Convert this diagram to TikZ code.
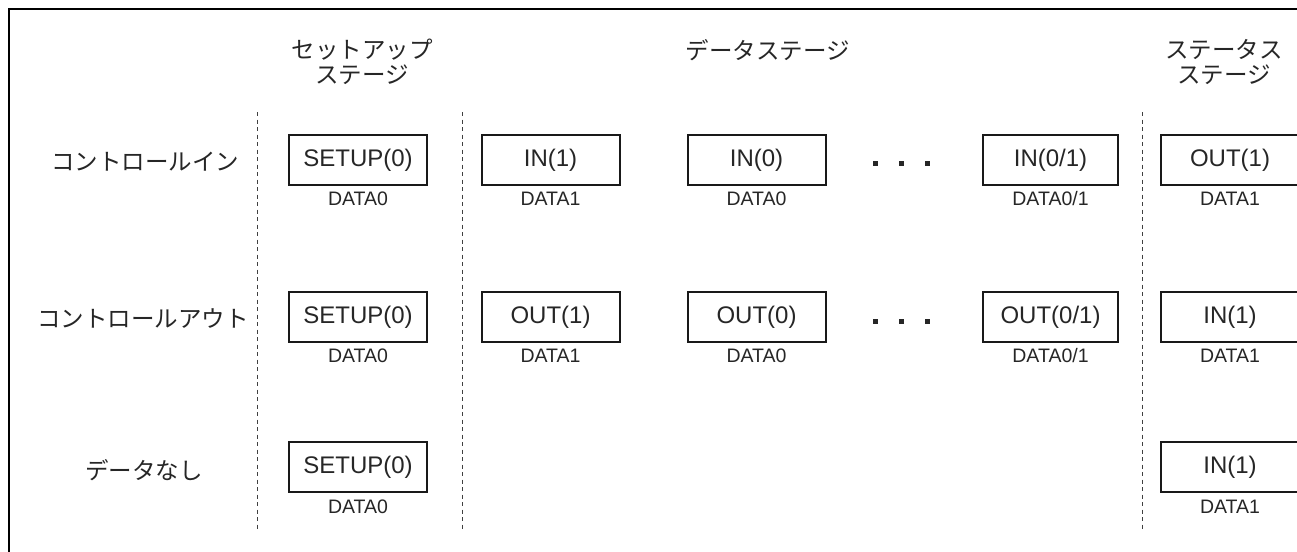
\documentclass[tikz,border=0pt]{standalone}
\usepackage{fontspec}
\setmainfont{Liberation Sans}
\newfontfamily\jp{Noto Sans CJK JP}
\begin{document}
\begin{tikzpicture}[x=1pt,y=-1pt,
  stagebox/.style={draw=black!90, line width=2pt, minimum width=138pt, minimum height=50pt, inner sep=0pt, text=black!85, font=\fontsize{24}{28}\selectfont},
  datalbl/.style={inner sep=0pt, text=black!85, font=\fontsize{19.5}{22}\selectfont},
  jplbl/.style={inner sep=0pt, text=black!85, font=\jp\fontsize{23.5}{24.5}\selectfont, align=center},
  dotmark/.style={fill=black!85, minimum size=5pt, inner sep=0pt},
  divider/.style={draw=black!75, line width=1pt, dash pattern=on 4pt off 3.5pt}]
\clip (0,0) rectangle (1297,551);
\fill[white] (0,0) rectangle (1297,551);
% frame (extends beyond the cropped picture)
\draw[line width=2.6pt] (9,620) -- (9,9) -- (1400,9);
% dividers
\draw[divider] (257,112) -- (257,530);
\draw[divider] (462,112) -- (462,530);
\draw[divider] (1142,112) -- (1142,530);
% headers
\node[jplbl] (hsetup) at (362,62) {セットアップ\\ステージ};
\node[jplbl] (hdata) at (768,50) {データステージ};
\node[jplbl] (hstatus) at (1224,62) {ステータス\\ステージ};
% row labels
\node[jplbl] (lin) at (145,162) {コントロールイン};
\node[jplbl] (lout) at (143,319) {コントロールアウト};
\node[jplbl] (lnone) at (144,470) {データなし};
% row 1
\node[stagebox] (b11) at (358,160) {SETUP(0)};
\node[datalbl] (t11) at (358,199) {DATA0};
\node[stagebox] (b12) at (550.5,160) {IN(1)};
\node[datalbl] (t12) at (550.5,199) {DATA1};
\node[stagebox] (b13) at (756.5,160) {IN(0)};
\node[datalbl] (t13) at (756.5,199) {DATA0};
\node[dotmark] (d11) at (875,163) {};
\node[dotmark] (d12) at (901,163) {};
\node[dotmark] (d13) at (927,163) {};
\node[stagebox, minimum width=135pt] (b14) at (1050.5,160) {IN(0/1)};
\node[datalbl] (t14) at (1050.5,199) {DATA0/1};
\node[stagebox] (b15) at (1230,160) {OUT(1)};
\node[datalbl] (t15) at (1230,199) {DATA1};
% row 2
\node[stagebox] (b21) at (358,317) {SETUP(0)};
\node[datalbl] (t21) at (358,356) {DATA0};
\node[stagebox] (b22) at (550.5,317) {OUT(1)};
\node[datalbl] (t22) at (550.5,356) {DATA1};
\node[stagebox] (b23) at (756.5,317) {OUT(0)};
\node[datalbl] (t23) at (756.5,356) {DATA0};
\node[dotmark] (d21) at (875,321) {};
\node[dotmark] (d22) at (901,321) {};
\node[dotmark] (d23) at (927,321) {};
\node[stagebox, minimum width=135pt] (b24) at (1050.5,317) {OUT(0/1)};
\node[datalbl] (t24) at (1050.5,356) {DATA0/1};
\node[stagebox] (b25) at (1230,317) {IN(1)};
\node[datalbl] (t25) at (1230,356) {DATA1};
% row 3
\node[stagebox] (b31) at (358,467) {SETUP(0)};
\node[datalbl] (t31) at (358,507) {DATA0};
\node[stagebox] (b35) at (1230,467) {IN(1)};
\node[datalbl] (t35) at (1230,507) {DATA1};
\end{tikzpicture}
\end{document}
